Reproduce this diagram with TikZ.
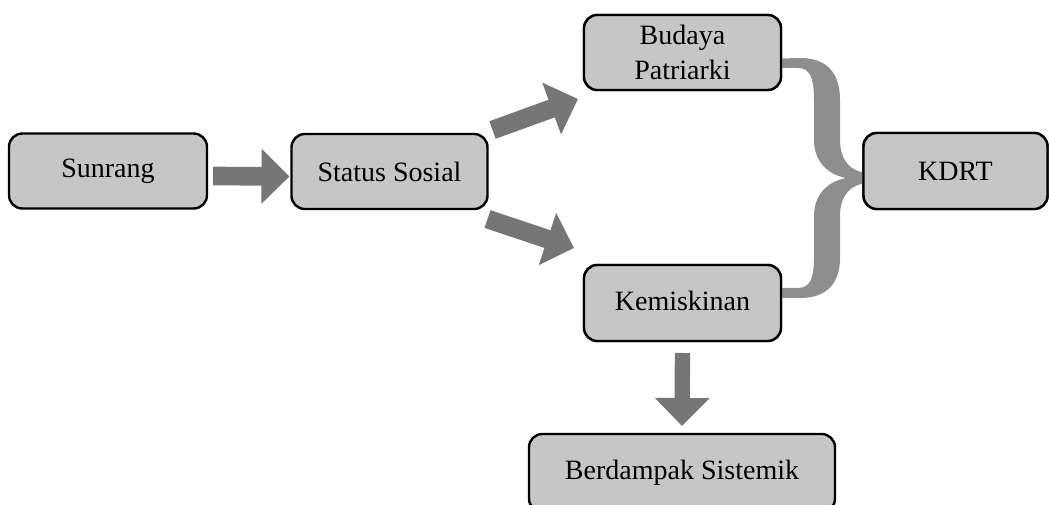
\documentclass[tikz,border=0pt]{standalone}
\usepackage{fontspec}
\setmainfont{Liberation Serif}
\usetikzlibrary{arrows.meta,calc}

\definecolor{boxfill}{HTML}{C6C6C6}
\definecolor{arrowgray}{HTML}{767676}
\definecolor{bracegray}{HTML}{8E8E8E}

\tikzset{
  stage/.style={draw=black, line width=1.8pt, fill=boxfill, rounded corners=10pt,
    inner sep=0pt, outer sep=0pt, align=center,
    font=\fontsize{21}{26}\selectfont},
  blockarrow/.style={draw=arrowgray, line width=14pt,
    -{Triangle[length=21pt, width=40pt]}},
  thinblockarrow/.style={draw=arrowgray, line width=11.5pt,
    -{Triangle[length=21pt, width=40pt]}}
}

\begin{document}
\begin{tikzpicture}[x=0.75pt, y=-0.75pt]
  \useasboundingbox (0,0) rectangle (1049,505);

  % stages
  \node[stage, minimum width=148.5pt, minimum height=56.25pt] (sun) at (108,171) {Sunrang};
  \node[stage, minimum width=147pt, minimum height=56.25pt] (stat) at (389.5,171.5) {Status Sosial};
  \node[stage, minimum width=147.75pt, minimum height=56.25pt] (bud) at (682.5,52.5) {Budaya\\Patriarki};
  \node[stage, minimum width=147.75pt, minimum height=57pt] (kem) at (682.5,303) {\raisebox{4pt}{Kemiskinan}};
  \node[stage, minimum width=138pt, minimum height=57pt] (kdrt) at (955.5,171) {KDRT};
  \node[stage, minimum width=229.5pt, minimum height=58.5pt] (berd) at (682,473) {\raisebox{4pt}{Berdampak Sistemik}};

  % flow arrows
  \draw[blockarrow] ($(sun.east)+(6,5)$) -- ($(stat.west)+(-2,5)$);
  \draw[blockarrow] ($(stat.north east)+(5,-4)$) -- ($(bud.south west)+(-6,9)$);
  \draw[blockarrow] ($(stat.south east)+(0,10)$) -- ($(kem.north west)+(-10,-17)$);
  \draw[thinblockarrow] ($(kem.south)+(0,12)$) -- ($(berd.north)+(0,-8)$);

  % curly brace joining both causes into KDRT
  \fill[bracegray]
    ($(bud.east)+(0,6)$) -- (800,58)
    .. controls (826,58) and (840,72) .. (840,100)
    -- (840,140)
    .. controls (840,160) and (850,172) .. (868,173)
    -- (868,183)
    .. controls (850,184) and (840,196) .. (840,216)
    -- (840,258)
    .. controls (840,284) and (826,298) .. (800,298)
    -- (781,298) -- (781,288) -- (798,288)
    .. controls (810,288) and (814,278) .. (814,258)
    -- (814,216)
    .. controls (814,196) and (826,182) .. (846,178)
    .. controls (826,174) and (814,160) .. (814,140)
    -- (814,100)
    .. controls (814,78) and (810,68) .. (798,68)
    -- (781,68) -- cycle;

  % redraw the boxes the brace touches so their outlines stay on top
  \node[stage, minimum width=147.75pt, minimum height=56.25pt] at (bud) {Budaya\\Patriarki};
  \node[stage, minimum width=147.75pt, minimum height=57pt] at (kem) {\raisebox{4pt}{Kemiskinan}};
  \node[stage, minimum width=138pt, minimum height=57pt] at (kdrt) {KDRT};
\end{tikzpicture}
\end{document}
